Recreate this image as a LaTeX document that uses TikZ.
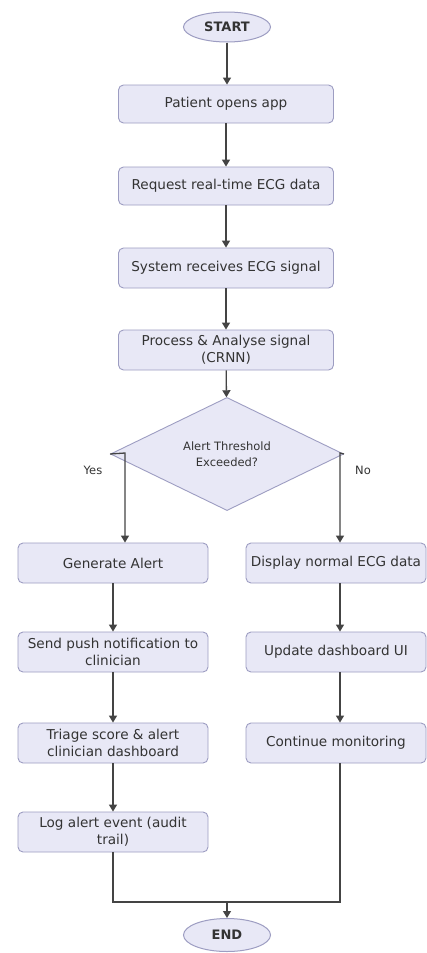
\documentclass[tikz,border=0pt]{standalone}
\usepackage{fontspec}
\setmainfont{DejaVu Sans}
\usetikzlibrary{shapes.geometric,arrows.meta}
\definecolor{boxfill}{HTML}{E8E8F6}
\definecolor{boxline}{HTML}{9D9DC2}
\definecolor{ink}{HTML}{333333}
\definecolor{wire}{HTML}{444444}
\begin{document}
\begin{tikzpicture}[x=1pt,y=-1pt,
  proc/.style={draw=boxline, fill=boxfill, rounded corners=5pt, line width=0.9pt,
    minimum height=38pt, inner sep=0pt, align=center, text=ink,
    font=\fontsize{13.6}{16.7}\selectfont},
  term/.style={ellipse, draw=boxline, fill=boxfill, line width=1pt, text=ink,
    minimum width=87pt, minimum height=30pt, inner sep=0pt,
    font=\bfseries\fontsize{13}{15}\selectfont},
  dec/.style={diamond, draw=boxline, fill=boxfill, line width=0.9pt, text=ink,
    minimum width=233pt, minimum height=108pt, inner sep=0pt, align=center,
    font=\fontsize{11.5}{16.5}\selectfont},
  lbl/.style={text=ink, font=\fontsize{11.5}{14}\selectfont},
  flow/.style={draw=wire, line width=1.3pt, -{Triangle[width=8pt,length=7pt]}},
  wireline/.style={draw=wire, line width=1.3pt}]

% canvas
\fill[white] (0,0) rectangle (427,953);
\clip (0,0) rectangle (427,953);

% main column
\node[term] (start) at (227,27) {START};
\node[proc, minimum width=215pt] (open) at (226,104) {Patient opens app};
\node[proc, minimum width=215pt] (req) at (226,186) {Request real-time ECG data};
\node[proc, minimum width=215pt, minimum height=40pt] (recv) at (226,268) {System receives ECG signal};
\node[proc, minimum width=215pt, minimum height=40pt] (proc) at (226,350) {Process \& Analyse signal\\(CRNN)};
\node[dec] (thr) at (227,454) {Alert Threshold\\Exceeded?};

% alert branch
\node[proc, minimum width=190pt, minimum height=40pt] (gen) at (113,563) {Generate Alert};
\node[proc, minimum width=190pt, minimum height=40pt] (push) at (113,652) {Send push notification to\\clinician};
\node[proc, minimum width=190pt, minimum height=40pt] (tri) at (113,743) {Triage score \& alert\\clinician dashboard};
\node[proc, minimum width=190pt, minimum height=40pt] (log) at (113,832) {Log alert event (audit\\trail)};

% normal branch
\node[proc, minimum width=180pt, minimum height=40pt] (disp) at (336,563) {Display normal ECG data};
\node[proc, minimum width=180pt, minimum height=40pt] (upd) at (336,652) {Update dashboard UI};
\node[proc, minimum width=180pt, minimum height=40pt] (cont) at (336,743) {Continue monitoring};

\node[term, minimum height=33pt] (end) at (227,935) {END};

% branch routing points
\coordinate (ycol) at (125,453);
\coordinate (ncol) at (340,453);
\coordinate (merge) at (227,902);

% connectors
\draw[flow] (start) -- (start |- open.north);
\draw[flow] (open) -- (req);
\draw[flow] (req) -- (recv);
\draw[flow] (recv) -- (proc);
\draw[flow] (proc) -- (thr);

\draw[flow] (thr.west) -- (ycol) -- (ycol |- gen.north);
\draw[flow] (thr.east) -- (ncol) -- (ncol |- disp.north);

\draw[flow] (gen) -- (push);
\draw[flow] (push) -- (tri);
\draw[flow] (tri) -- (log);

\draw[flow] (ncol |- disp.south) -- (ncol |- upd.north);
\draw[flow] (ncol |- upd.south) -- (ncol |- cont.north);

\draw[wireline] (log.south) -- (log.south |- merge) -- (ncol |- merge) -- (ncol |- cont.south);
\draw[flow] (merge) -- (end.north);

% branch labels
\node[lbl] (yes) at (93,470) {Yes};
\node[lbl] (no) at (363,470) {No};
\end{tikzpicture}
\end{document}
